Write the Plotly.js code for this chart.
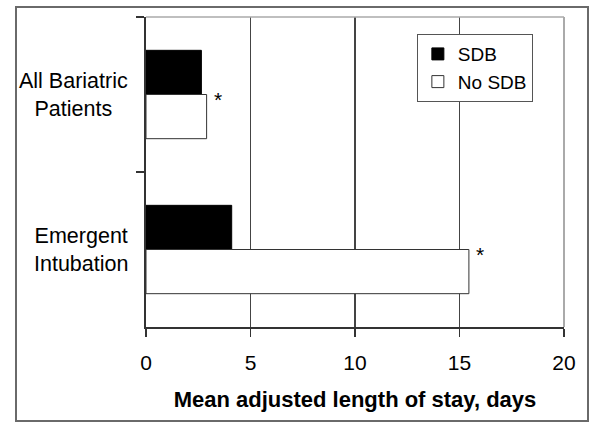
<!DOCTYPE html>
<html>
<head>
<meta charset="utf-8">
<script src="https://cdn.plot.ly/plotly-3.0.1.min.js"></script>
<style>
  html, body { margin: 0; padding: 0; background: #fff; }
  #wrap { position: relative; width: 600px; height: 429px; }
  #chart { position: absolute; left: 0; top: 0; width: 600px; height: 429px; }
  #frame { position: absolute; left: 15px; top: 6px; width: 570px; height: 412px;
           border: 2px solid #6a6a6a; pointer-events: none; }
</style>
</head>
<body>
<div id="wrap">
  <div id="chart"></div>
  <div id="frame"></div>
</div>
<script>
// Data
const categories = ["All Bariatric<br>Patients", "Emergent<br>Intubation"];
const seriesNames = ["SDB", "No SDB"];
const sdbValues = [2.65, 4.1];
const noSdbValues = [2.9, 15.45];
const significant = [true, true];   // asterisk marks after "No SDB" bars
const xTicks = [0, 5, 10, 15, 20];

const FONT = "Liberation Sans, Arial, sans-serif";

const traces = [
  {
    type: "bar", orientation: "h", name: seriesNames[0],
    y: categories, x: sdbValues,
    marker: { color: "#000000", line: { color: "#000000", width: 1 } },
    hoverinfo: "skip"
  },
  {
    type: "bar", orientation: "h", name: seriesNames[1],
    y: categories, x: noSdbValues,
    marker: { color: "#ffffff", line: { color: "#333333", width: 1 } },
    hoverinfo: "skip"
  }
];

const annotations = [];
categories.forEach((c, i) => {
  annotations.push({
    xref: "paper", yref: "y", x: 0, y: c, xanchor: "right", yanchor: "middle",
    xshift: -16, text: c, align: "center", showarrow: false,
    font: { family: FONT, size: 21.5, color: "#000" }
  });
  if (significant[i]) {
    annotations.push({
      xref: "x", yref: "y", x: noSdbValues[i], y: c, xanchor: "left", yanchor: "middle",
      xshift: 5, yshift: -5, text: "*", showarrow: false,
      font: { family: FONT, size: 21, color: "#000" }
    });
  }
});

const layout = {
  width: 600, height: 429,
  margin: { l: 146, r: 36, t: 17, b: 102, pad: 0 },
  paper_bgcolor: "#ffffff", plot_bgcolor: "#ffffff",
  font: { family: FONT, size: 20, color: "#000" },
  barmode: "group", bargap: 0.43, bargroupgap: 0,
  showlegend: true,
  legend: {
    x: 0.648, y: 0.945, xanchor: "left", yanchor: "top",
    bgcolor: "#ffffff", bordercolor: "#555555", borderwidth: 1,
    traceorder: "normal",
    font: { family: FONT, size: 19, color: "#000" }
  },
  xaxis: {
    range: [0, 20], tickvals: xTicks, ticktext: xTicks.map(String),
    showgrid: true, gridcolor: "#444444", gridwidth: 1.5,
    zeroline: false, showline: true, linecolor: "#333333", linewidth: 2,
    ticks: "outside", ticklen: 8, tickwidth: 1.5, tickcolor: "#333333",
    ticklabelstandoff: 8,
    tickfont: { family: FONT, size: 21, color: "#000" },
    title: { text: "<b>Mean adjusted length of stay, days</b>",
             font: { family: FONT, size: 22, color: "#000" }, standoff: 18 },
    fixedrange: true
  },
  yaxis: {
    type: "category", categoryorder: "array", categoryarray: categories,
    autorange: "reversed",
    showgrid: false, zeroline: false, showline: true, linecolor: "#333333", linewidth: 2,
    ticks: "outside", ticklen: 8, tickwidth: 1.5, tickcolor: "#333333",
    tickson: "boundaries", showticklabels: false, fixedrange: true
  },
  shapes: [
    { type: "line", xref: "paper", yref: "paper", x0: 0, x1: 1, y0: 1, y1: 1,
      line: { color: "#aaaaaa", width: 1.5 }, layer: "above" },
    { type: "line", xref: "paper", yref: "paper", x0: 1, x1: 1, y0: 0, y1: 1,
      line: { color: "#aaaaaa", width: 2 }, layer: "above" }
  ],
  annotations: annotations
};

Plotly.newPlot("chart", traces, layout, { staticPlot: true, displayModeBar: false });
</script>
</body>
</html>
